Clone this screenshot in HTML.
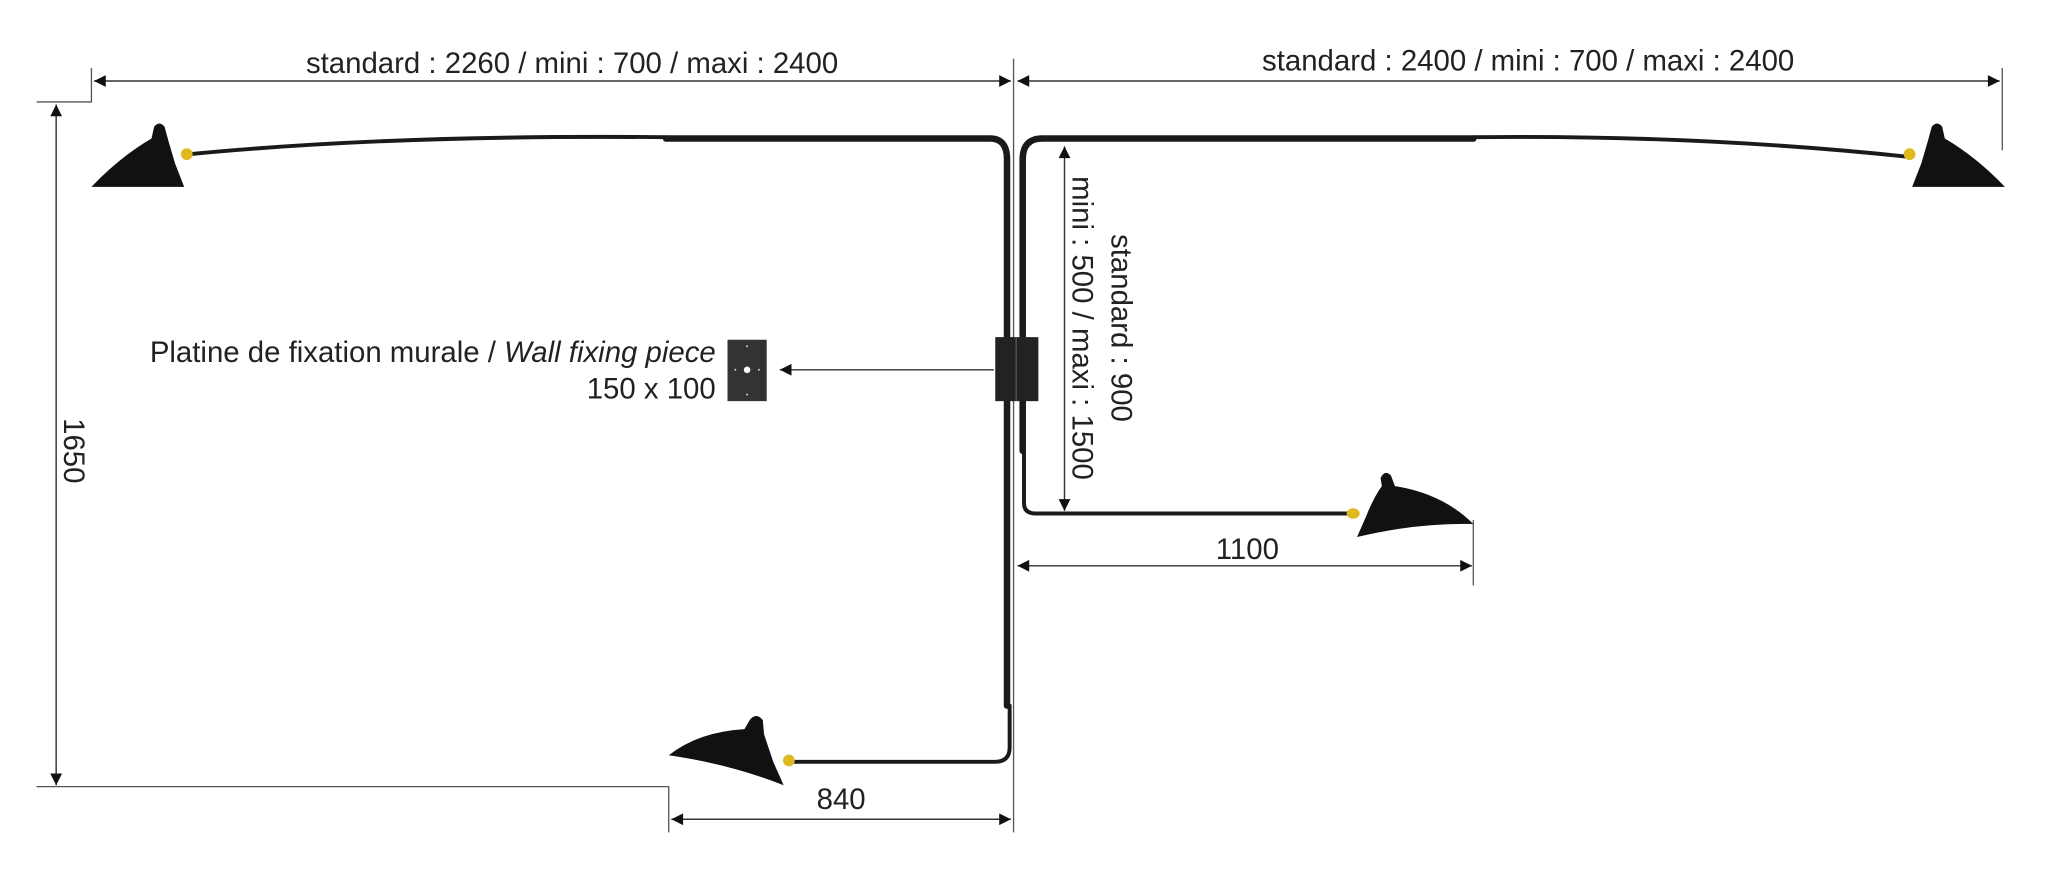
<!DOCTYPE html>
<html><head><meta charset="utf-8"><style>
html,body{margin:0;padding:0;background:#fff;}
svg{display:block;}
text{font-family:"Liberation Sans",sans-serif;fill:#222;}
</style></head><body>
<svg width="2048" height="882" viewBox="0 0 1568 675" preserveAspectRatio="none" xmlns="http://www.w3.org/2000/svg">
<defs>
<marker id="a" viewBox="0 0 10 10" refX="10" refY="5" markerWidth="11" markerHeight="9" markerUnits="userSpaceOnUse" orient="auto-start-reverse"><path d="M0,0 L10,5 L0,10 Z" fill="#111"/></marker>
</defs>
<g stroke="#555" stroke-width="1" fill="none">
<path d="M70,52 V78 H28"/>
<line x1="776" y1="45" x2="776" y2="637"/>
<line x1="1533" y1="52" x2="1533" y2="115"/>
<path d="M28,602 H512 V637"/>
<line x1="1128" y1="398" x2="1128" y2="448"/>
</g>
<g stroke="#333" stroke-width="1.1" fill="none">
<line x1="72" y1="62" x2="774" y2="62" marker-start="url(#a)" marker-end="url(#a)"/>
<line x1="779" y1="62" x2="1531" y2="62" marker-start="url(#a)" marker-end="url(#a)"/>
<line x1="43" y1="80" x2="43" y2="601" marker-start="url(#a)" marker-end="url(#a)"/>
<line x1="514" y1="627" x2="774" y2="627" marker-start="url(#a)" marker-end="url(#a)"/>
<line x1="779" y1="433" x2="1127" y2="433" marker-start="url(#a)" marker-end="url(#a)"/>
<line x1="815" y1="112" x2="815" y2="391" marker-start="url(#a)" marker-end="url(#a)"/>
<line x1="761" y1="283" x2="597" y2="283" marker-end="url(#a)"/>
</g>
<text x="438" y="56" font-size="22.5" text-anchor="middle">standard : 2260 / mini : 700 / maxi : 2400</text>
<text x="1170" y="54" font-size="22.5" text-anchor="middle">standard : 2400 / mini : 700 / maxi : 2400</text>
<text x="644" y="619" font-size="22.5" text-anchor="middle">840</text>
<text x="955" y="428" font-size="22.5" text-anchor="middle">1100</text>
<text transform="translate(49,345) rotate(90)" font-size="22.5" text-anchor="middle">1650</text>
<text transform="translate(821,251) rotate(90)" font-size="22.5" text-anchor="middle">mini : 500 / maxi : 1500</text>
<text transform="translate(851,251) rotate(90)" font-size="22.5" text-anchor="middle">standard : 900</text>
<text x="548" y="277" font-size="22.5" text-anchor="end">Platine de fixation murale / <tspan font-style="italic">Wall fixing piece</tspan></text>
<text x="548" y="305" font-size="22.5" text-anchor="end">150 x 100</text>
<rect x="557" y="260" width="30" height="47" fill="#333"/>
<circle cx="572" cy="283" r="2.5" fill="#fff"/>
<circle cx="572" cy="265" r="0.8" fill="#ccc"/><circle cx="572" cy="302" r="0.8" fill="#ccc"/>
<circle cx="563" cy="283" r="0.8" fill="#ccc"/><circle cx="581" cy="283" r="0.8" fill="#ccc"/>
<g fill="none" stroke="#1a1a1a" stroke-linecap="round">
<path d="M145,118 Q300,103 510,105" stroke-width="3"/>
<path d="M510,106 H758 Q771,106 771,122 V540" stroke-width="5"/>
<path d="M773,540 V572 Q773,583 762,583 H606" stroke-width="3"/>
<path d="M1461,120 Q1300,103 1128,105" stroke-width="3"/>
<path d="M1128,106 H798 Q783,106 783,122 V345" stroke-width="5"/>
<path d="M784,345 V385 Q784,393 793,393 H1034" stroke-width="3"/>
</g>
<rect x="762" y="258" width="33" height="49" fill="#222"/>
<line x1="778" y1="258" x2="778" y2="307" stroke="#555" stroke-width="1"/>
<path d="M70,143 Q92,120 116,106 L118,97 Q122,92 126,97 L129,108 L134,125 L141,143 Z" fill="#111"/>
<circle cx="143" cy="118" r="4.5" fill="#e0b820"/>
<g transform="translate(1605,0) scale(-1,1)">
<path d="M70,143 Q92,120 116,106 L118,97 Q122,92 126,97 L129,108 L134,125 L141,143 Z" fill="#111"/>
<circle cx="143" cy="118" r="4.5" fill="#e0b820"/>
</g>
<path d="M1039,411 L1046,395 Q1052,380 1058,372 L1057,366 Q1060,359 1065,364 L1068,372 Q1105,378 1128,401 Q1085,400 1039,411 Z" fill="#111"/>
<ellipse cx="1036" cy="393" rx="5" ry="4" fill="#e0b820"/>
<path d="M512,578 Q535,560 570,558 L574,551 Q579,545 584,551 L585,562 L592,583 L600,601 Q560,585 512,578 Z" fill="#111"/>
<circle cx="604" cy="582" r="4.5" fill="#e0b820"/>
</svg>
</body></html>
